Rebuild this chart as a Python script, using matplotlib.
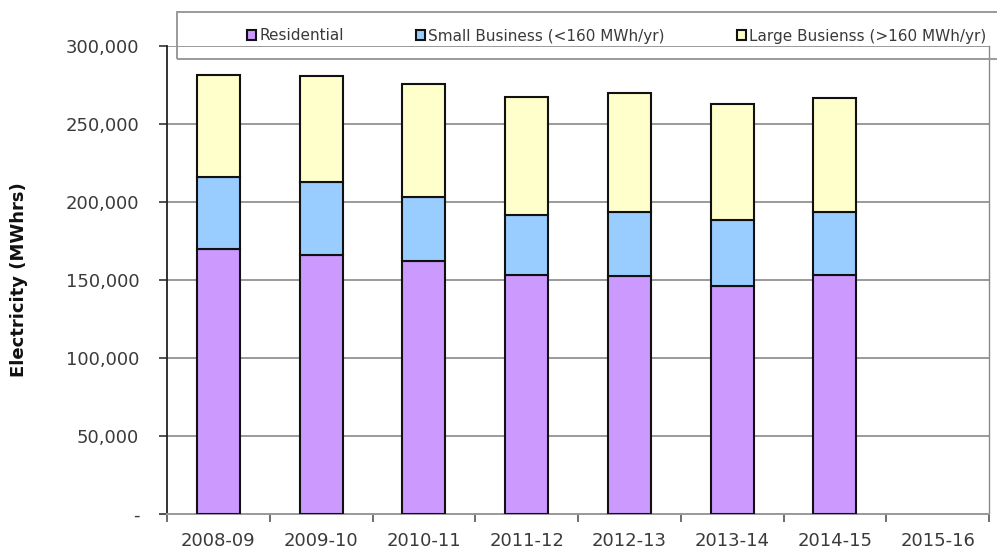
import numpy as np
import matplotlib
matplotlib.use("Agg")
import matplotlib.pyplot as plt
from matplotlib.patches import Rectangle
from matplotlib.ticker import FuncFormatter, FixedLocator

# Financial years and electricity use by customer class (MWh)
years = ["2008-09", "2009-10", "2010-11", "2011-12", "2012-13",
         "2013-14", "2014-15", "2015-16"]
residential = [169600, 166100, 161900, 153200, 152600, 146200, 153200]
small_business = [46300, 46900, 41300, 38300, 41000, 42100, 40400]
large_business = [65600, 67800, 72700, 76100, 76200, 74400, 73300]

series_names = ["Residential", "Small Business (<160 MWh/yr)",
                "Large Busienss (>160 MWh/yr)"]
colors = ["#CC99FF", "#99CCFF", "#FFFFCC"]

plt.rcParams["font.family"] = ["DejaVu Sans"]

W, H = 997, 551
fig = plt.figure(figsize=(W / 100, H / 100), dpi=100)
ax = fig.add_axes([167 / W, 37 / H, 822 / W, 468 / H])

x = np.arange(len(residential))
res = np.array(residential)
small = np.array(small_business)
large = np.array(large_business)

bar_kw = dict(width=0.42, edgecolor="#111111", linewidth=1.5, zorder=3)
b1 = ax.bar(x, res, color=colors[0], label=series_names[0], **bar_kw)
b2 = ax.bar(x, small, bottom=res, color=colors[1], label=series_names[1], **bar_kw)
b3 = ax.bar(x, large, bottom=res + small, color=colors[2], label=series_names[2], **bar_kw)

ax.set_xlim(-0.5, len(years) - 0.5)
ax.set_ylim(0, 300000)

# y axis: ticks every 50,000, zero shown as a dash
ax.set_yticks(np.arange(0, 300001, 50000))
ax.yaxis.set_major_formatter(FuncFormatter(lambda v, p: "-" if v == 0 else f"{int(v):,}"))
ax.yaxis.grid(True, color="#9a9a9a", linewidth=1.4, zorder=0)
ax.set_axisbelow(True)
ax.tick_params(axis="y", direction="out", length=6, width=1.2, color="#333333",
               labelsize=13, labelcolor="#3a3a3a", pad=14)

# x axis: labels centred on categories, tick marks between them
ax.set_xticks(np.arange(len(years)))
ax.set_xticklabels(years)
ax.xaxis.set_minor_locator(FixedLocator(np.arange(-0.5, len(years), 1.0)))
ax.tick_params(axis="x", which="major", length=0, labelsize=13,
               labelcolor="#3a3a3a", pad=13)
ax.tick_params(axis="x", which="minor", direction="out", length=6, width=1.2,
               color="#555555")

ax.spines["top"].set_visible(False)
ax.spines["left"].set_color("#222222")
ax.spines["left"].set_linewidth(1.3)
ax.spines["bottom"].set_color("#9a9a9a")
ax.spines["bottom"].set_linewidth(1.4)
ax.spines["right"].set_color("#8a8a8a")
ax.spines["right"].set_linewidth(1.0)

ax.set_ylabel("Electricity (MWhrs)", fontsize=13, fontweight="bold",
              color="#111111")
ax.yaxis.set_label_coords((28 - 167) / 822, 0.5)

# legend box across the top, entries placed individually
fig.add_artist(Rectangle((177 / W, 1 - 59 / H), (W + 10 - 177) / W, 47 / H,
                         transform=fig.transFigure, facecolor="none",
                         edgecolor="#9a9a9a", linewidth=1.4, zorder=5))
entry_left = [247, 416, 737]
for handle, left in zip([b1, b2, b3], entry_left):
    lg = fig.legend(handles=[handle], loc="center left",
                    bbox_to_anchor=(left / W, 1 - 36 / H), frameon=False,
                    fontsize=11, handlelength=0.6, handleheight=0.6,
                    handletextpad=0.2, borderpad=0.0, borderaxespad=0.0)
    for t in lg.get_texts():
        t.set_color("#3a3a3a")

fig.savefig("out.png", dpi=100)
